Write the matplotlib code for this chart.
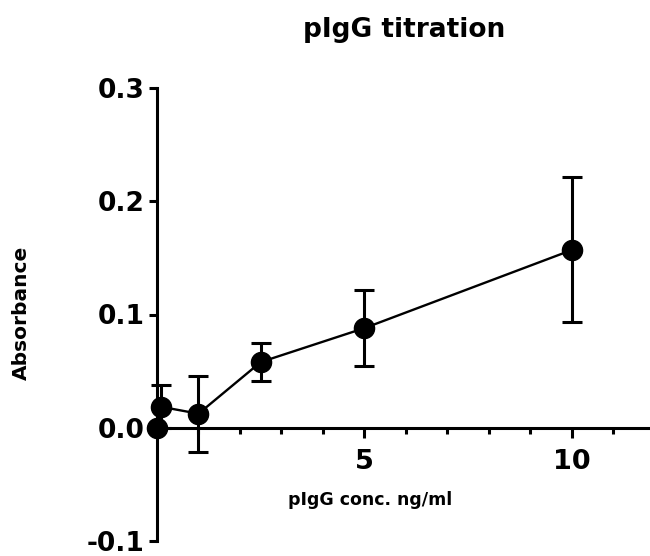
import matplotlib
matplotlib.use("Agg")
import matplotlib.pyplot as plt
from matplotlib.ticker import FixedLocator

conc = [0.0, 0.1, 1.0, 2.5, 5.0, 10.0]
absorb = [0.0, 0.0185, 0.0124, 0.058, 0.088, 0.157]
err = [0.0, 0.019, 0.0335, 0.0165, 0.0335, 0.064]
yticks = [-0.1, 0.0, 0.1, 0.2, 0.3]
yticklabels = ["-0.1", "0.0", "0.1", "0.2", "0.3"]
xticks = [5, 10]
xticklabels = ["5", "10"]
xminor = [1, 2, 3, 4, 6, 7, 8, 9, 11]

plt.rcParams['font.family'] = ['DejaVu Sans']
fig = plt.figure(figsize=(6.5, 5.56), dpi=100)
W, H = 650, 556
ax = fig.add_axes([157 / W, (H - 541) / H, (650 - 157) / W, (541 - 88) / H])
ax.set_xlim(0, 11.88)
ax.set_ylim(-0.1, 0.3)

ax.errorbar(conc, absorb, yerr=err, fmt='none', ecolor='black', elinewidth=2.2,
            capsize=7.2, capthick=2.2, clip_on=False, zorder=3)
ax.plot(conc, absorb, color='black', lw=1.7, marker='o', markersize=14.5,
        markerfacecolor='black', markeredgecolor='black', clip_on=False, zorder=4)

for s in ['top', 'right']:
    ax.spines[s].set_visible(False)
ax.spines['left'].set_linewidth(2.2)
ax.spines['bottom'].set_linewidth(2.2)
ax.spines['bottom'].set_position(('data', 0))
ax.spines['left'].set_position(('data', 0))

ax.set_yticks(yticks)
ax.set_yticklabels(yticklabels, fontsize=19, fontweight='heavy')
ax.set_xticks(xticks)
ax.set_xticklabels(xticklabels, fontsize=19.5, fontweight='heavy')
ax.xaxis.set_minor_locator(FixedLocator(xminor))
ax.tick_params(axis='y', direction='out', length=6, width=2.2, pad=3)
ax.tick_params(axis='x', which='major', direction='out', length=7, width=2.2, pad=8)
ax.tick_params(axis='x', which='minor', direction='out', length=4.5, width=2.2)

fig.text(404 / W, 1 - 30 / H, "pIgG titration", ha='center', va='center',
         fontsize=19, fontweight='bold')
fig.text(370 / W, 1 - 500 / H, "pIgG conc. ng/ml", ha='center', va='center',
         fontsize=12.5, fontweight='bold')
fig.text(21 / W, 1 - 313 / H, "Absorbance", ha='center', va='center',
         rotation=90, fontsize=14.5, fontweight='bold')

fig.savefig("out.png", dpi=100)
